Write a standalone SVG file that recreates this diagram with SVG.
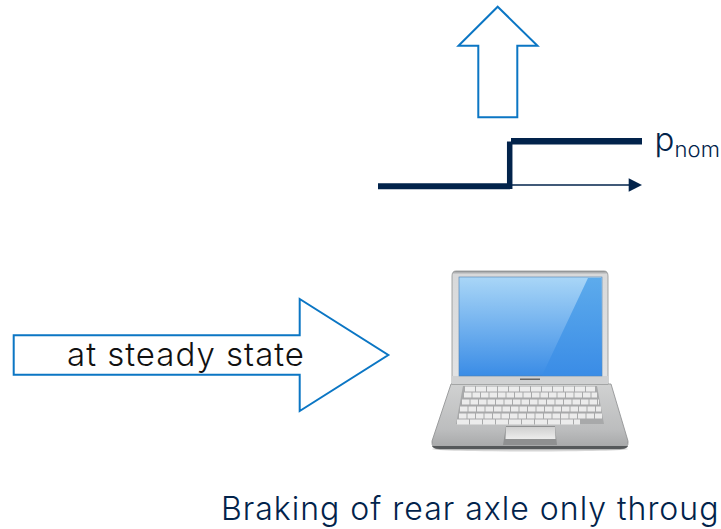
<svg xmlns="http://www.w3.org/2000/svg" width="721" height="529" viewBox="0 0 721 529">
<style>
.arrow{fill:#fff;stroke:#0b76c4;stroke-width:2;stroke-linejoin:miter}
.txt{font-family:Inter,"Noto Sans","Liberation Sans",sans-serif;font-weight:300}
.step{fill:none;stroke:#02234b}
.key{fill:none;stroke:#ececec;stroke-width:5}
</style>
<defs>
<linearGradient id="scr" x1="0" y1="0" x2="0" y2="1"><stop offset="0" stop-color="#a9d6f7"/><stop offset="1" stop-color="#3a8ce6"/></linearGradient>
<linearGradient id="glare" x1="0" y1="0" x2="0" y2="1"><stop offset="0" stop-color="#5dabec"/><stop offset="1" stop-color="#3a8ce6"/></linearGradient>
<linearGradient id="lid" x1="0" y1="0" x2="0" y2="1"><stop offset="0" stop-color="#8f9294"/><stop offset=".03" stop-color="#d8d9da"/><stop offset="1" stop-color="#e2e3e4"/></linearGradient>
<linearGradient id="base" x1="0" y1="0" x2="0" y2="1"><stop offset="0" stop-color="#d0d1d1"/><stop offset=".7" stop-color="#bcbdbe"/><stop offset="1" stop-color="#a5a6a7"/></linearGradient>
<linearGradient id="pad" x1="0" y1="0" x2="0" y2="1"><stop offset="0" stop-color="#d0d0d0"/><stop offset="1" stop-color="#ececec"/></linearGradient>
</defs>
<g id="up-arrow"><polygon class="arrow" points="497.7,6.7 537.5,45.7 517.3,45.7 517.3,117.3 478.3,117.3 478.3,45.7 458.500,45.7"/></g>
<g id="connectors">
<path class="step" stroke-width="6" d="M378 186.300H510"/>
<path class="step" stroke-width="5.500" d="M509.700 189V141.500"/>
<path class="step" stroke-width="6.500" d="M511 141.300H642"/>
<path class="step" stroke-width="1.500" d="M510 185H630"/>
<polygon fill="#02234b" points="642,185 628.700,178.300 628.700,191.700"/>
</g>
<g id="label-pnom"><text class="txt" x="654.500" y="151" font-size="33" fill="#02234b">p<tspan font-size="22" dy="6" letter-spacing=".2">nom</tspan></text></g>
<g id="steady-arrow">
<polygon class="arrow" points="13.700,335.300 299.700,335.300 299.700,299 388.300,355 299.700,411 299.700,374.700 13.700,374.700"/>
<text class="txt" x="67" y="366" font-size="33" letter-spacing="1" fill="#111">at steady state</text>
</g>
<g id="laptop">
<ellipse cx="530" cy="449" rx="98" ry="2.500" fill="#bbb" opacity=".6"/>
<path d="M451 384H611L628 441Q629 449 620 449H440Q431 449 432 441Z" fill="url(#base)" stroke="#8c8d8e" stroke-width=".8"/>
<path d="M432 446Q433 449 440 449H620Q627 449 628 446Z" fill="#55585a"/>
<path d="M456 271H604Q608 271 608 276V384H452V276Q452 271 456 271Z" fill="url(#lid)" stroke="#8e9091" stroke-width=".8"/>
<rect x="452" y="376" width="156" height="8" fill="#d0d1d2"/>
<rect x="459" y="277" width="143" height="99" fill="url(#scr)" stroke="#4d7fae" stroke-width=".6"/>
<polygon points="588,278 601.500,278 601.500,375.500 542,375.500" fill="url(#glare)"/>
<rect x="520" y="378.500" width="20" height="1.500" fill="#666"/>
<polygon points="463,386 597,386 604,424 456,424" fill="#a8a9aa"/>
<g class="key">
<path d="M465 389H595" stroke-dasharray="10 1"/>
<path d="M464 395H597" stroke-dasharray="7.500 1"/>
<path d="M462 402H599" stroke-dasharray="7.500 1"/>
<path d="M460 409H601" stroke-dasharray="7.500 1"/>
<path d="M459 416H602" stroke-dasharray="7.500 1"/>
<path d="M457 422H580" stroke-dasharray="12 1"/>
</g>
<polygon points="506,426 555,426 557,445 503,445" fill="#8f9091"/>
<polygon points="506,427 555,427 555.500,439 505.500,439" fill="url(#pad)"/>
</g>
<g id="caption"><text class="txt" x="221" y="520" font-size="32" letter-spacing="1" fill="#02234b">Braking of rear axle only throug</text></g>
</svg>
